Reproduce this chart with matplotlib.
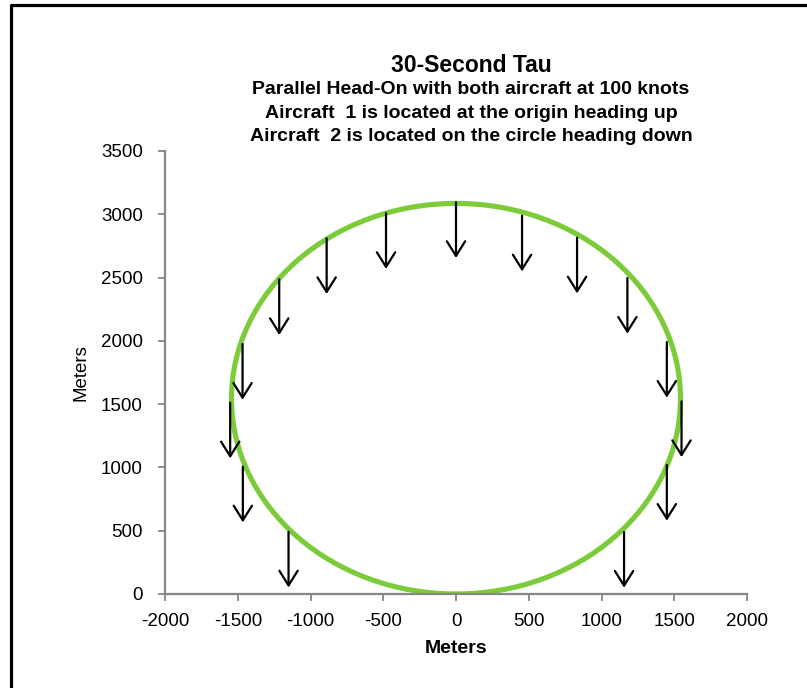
import matplotlib
matplotlib.use('Agg')

import matplotlib.pyplot as plt
from matplotlib.patches import Ellipse
from matplotlib.lines import Line2D

plt.rcParams['font.family'] = ['Liberation Sans', 'DejaVu Sans']
plt.rcParams['axes.unicode_minus'] = False

# Tau circle: centre and radius in metres
circle_center = (0.0, 1543.0)
circle_radius = 1543.0

# Aircraft 2 positions on the circle (arrow tails) and arrow length (m)
arrow_x = [-1552, -1467, -1465, -1151, -1215, -889, -481, 0,
           454, 832, 1178, 1449, 1550, 1449, 1155]
arrow_y = [1512, 1975, 1006, 492, 2486, 2810, 3008, 3095,
           2989, 2815, 2497, 1991, 1522, 1019, 490]
arrow_len = 440

x_ticks = [-2000, -1500, -1000, -500, 0, 500, 1000, 1500, 2000]
y_ticks = [0, 500, 1000, 1500, 2000, 2500, 3000, 3500]

title = '30-Second Tau'
subtitles = ['Parallel Head-On with both aircraft at 100 knots',
             'Aircraft  1 is located at the origin heading up',
             'Aircraft  2 is located on the circle heading down']

W, H = 807, 688
fig = plt.figure(figsize=(W / 100, H / 100), dpi=100)
ax = fig.add_axes([165 / W, 1 - 594 / H, (747 - 165) / W, (594 - 151) / H])

green = '#7BCB3A'
axis_grey = '#868686'

circ = Ellipse(circle_center, 2 * circle_radius, 2 * circle_radius,
               fill=False, edgecolor=green, linewidth=3.7)
ax.add_patch(circ)

for x0, y0 in zip(arrow_x, arrow_y):
    ax.annotate('', xy=(x0, y0 - arrow_len), xytext=(x0, y0),
                arrowprops=dict(arrowstyle='->,head_length=1.05,head_width=0.66',
                                color='black', lw=1.6, shrinkA=0, shrinkB=0,
                                mutation_scale=10))

ax.set_xlim(x_ticks[0], x_ticks[-1])
ax.set_ylim(y_ticks[0], y_ticks[-1])
ax.set_xticks(x_ticks)
ax.set_yticks(y_ticks)
ax.tick_params(direction='out', length=5, width=1.3, color=axis_grey,
               labelsize=13.5)
ax.tick_params(axis='x', pad=9)
ax.tick_params(axis='y', pad=11)
for s in ['top', 'right']:
    ax.spines[s].set_visible(False)
for s in ['left', 'bottom']:
    ax.spines[s].set_color(axis_grey)
    ax.spines[s].set_linewidth(1.6)

ax.set_xlabel('Meters', fontsize=14, fontweight='bold', labelpad=7)
ax.set_ylabel('Meters', fontsize=13.5,
              family=['Liberation Sans Narrow', 'Liberation Sans'], labelpad=8)

cx = 471 / W
fig.text(cx, 1 - 66 / H, title, ha='center', va='center',
         fontsize=16.5, fontweight='bold')
for i, line in enumerate(subtitles):
    fig.text(cx, 1 - (89.5 + 23.5 * i) / H, line, ha='center', va='center',
             fontsize=14, fontweight='bold')

# chart area border (only left and top edges fall inside the picture)
fig.add_artist(Line2D([10.5 / W, 10.5 / W, 1.0], [0.0, 1 - 4.7 / H, 1 - 4.7 / H],
                      transform=fig.transFigure, color='black', lw=2.3))

fig.savefig('out.png', dpi=100)
